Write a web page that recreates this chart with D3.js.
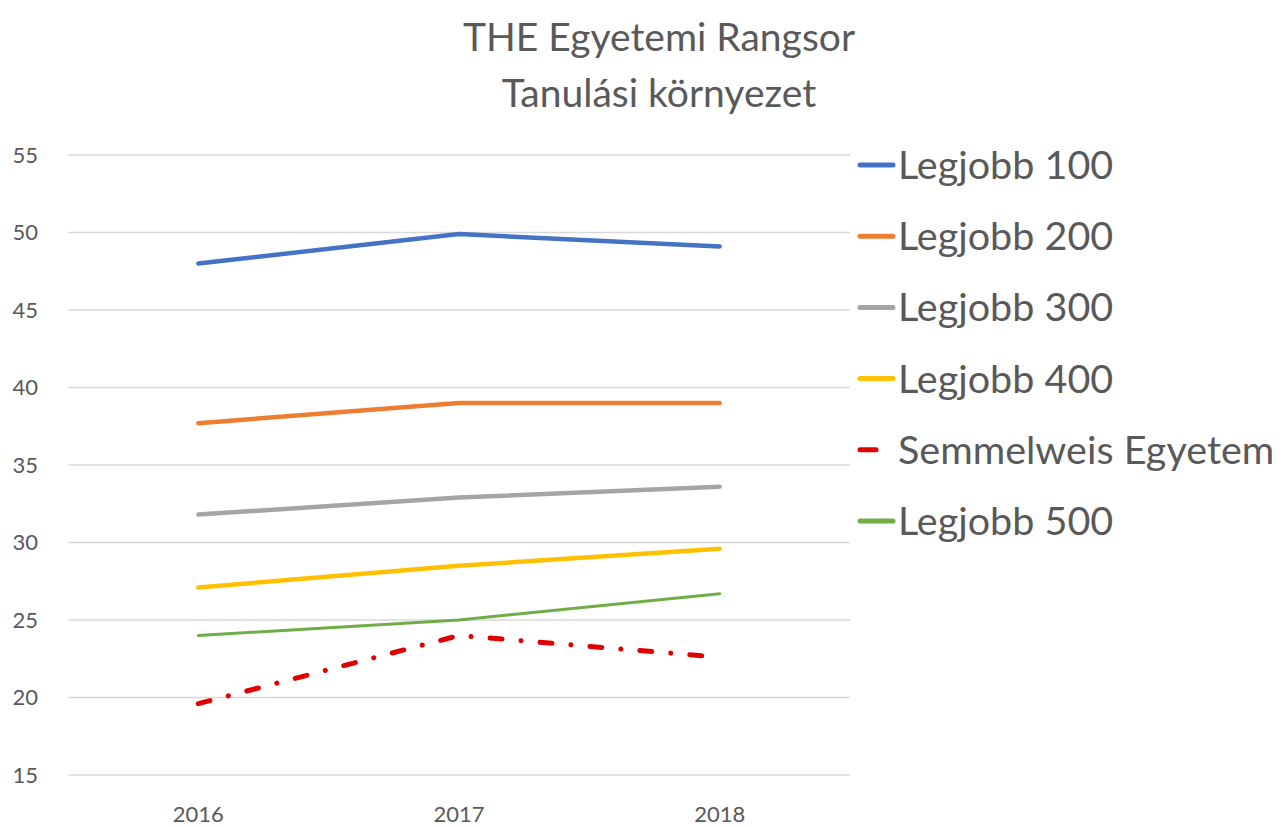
<!DOCTYPE html>
<html>
<head>
<meta charset="utf-8">
<script src="https://cdn.jsdelivr.net/npm/d3@7"></script>
<style>
  html, body { margin: 0; padding: 0; background: #fff; }
  svg { display: block; font-family: Lato, "Open Sans", sans-serif; }
</style>
</head>
<body>
<svg id="chart" width="1283" height="827"></svg>
<script>
const years = ["2016", "2017", "2018"];
const seriesNames = ["Legjobb 100", "Legjobb 200", "Legjobb 300", "Legjobb 400", "Semmelweis Egyetem", "Legjobb 500"];
const legjobb100 = [48.0, 49.9, 49.1];
const legjobb200 = [37.7, 39.0, 39.0];
const legjobb300 = [31.8, 32.9, 33.6];
const legjobb400 = [27.1, 28.5, 29.6];
const semmelweis = [19.6, 24.0, 22.6];
const legjobb500 = [24.0, 25.0, 26.7];
const yTicks = [15, 20, 25, 30, 35, 40, 45, 50, 55];
const titleLines = ["THE Egyetemi Rangsor", "Tanulási környezet"];

const seriesValues = [legjobb100, legjobb200, legjobb300, legjobb400, semmelweis, legjobb500];
const colors = ["#4472C4", "#ED7D31", "#A5A5A5", "#FFC000", "#E00000", "#70AD47"];
const widths = [4.5, 4.5, 4.5, 4.5, 5, 3];

const svg = d3.select("#chart");
const pLeft = 68, pRight = 850, pTop = 155, pBottom = 775;

const x = d3.scaleBand().domain(years).range([pLeft, pRight]);
const y = d3.scaleLinear().domain([15, 55]).range([pBottom, pTop]);

// gridlines
svg.append("g").selectAll("line").data(yTicks).join("line")
  .attr("x1", pLeft).attr("x2", pRight)
  .attr("y1", d => y(d)).attr("y2", d => y(d))
  .attr("stroke", "#D9D9D9").attr("stroke-width", 1.5);

// y axis labels
const yAxis = d3.axisLeft(y).tickValues(yTicks).tickSize(0).tickPadding(0);
const gy = svg.append("g").attr("transform", "translate(38,0)").call(yAxis);
gy.select(".domain").remove();
gy.selectAll("text").attr("font-size", 22).attr("fill", "#595959").attr("font-family", "Lato, sans-serif");

// x axis labels
const xAxis = d3.axisBottom(x).tickSize(0).tickPadding(0);
const gx = svg.append("g").attr("transform", "translate(0,806)").call(xAxis);
gx.select(".domain").remove();
gx.selectAll("text").attr("font-size", 22).attr("fill", "#595959").attr("font-family", "Lato, sans-serif");

// lines
const line = d3.line().x((d, i) => x(years[i]) + x.bandwidth() / 2).y(d => y(d));
const order = [0, 1, 2, 3, 5, 4];
order.forEach(k => {
  const p = svg.append("path").datum(seriesValues[k])
    .attr("d", line)
    .attr("fill", "none")
    .attr("stroke", colors[k])
    .attr("stroke-width", widths[k])
    .attr("stroke-linecap", "round")
    .attr("stroke-linejoin", "round");
  if (k === 4) p.attr("stroke-dasharray", "12 19 0.1 19");
});

// legend
const lg = svg.append("g");
seriesNames.forEach((name, i) => {
  const cy = 165 + i * 71.2;
  lg.append("line")
    .attr("x1", 860).attr("x2", i === 4 ? 876 : 893)
    .attr("y1", cy).attr("y2", cy)
    .attr("stroke", colors[i]).attr("stroke-width", 5).attr("stroke-linecap", "round");
  lg.append("text")
    .attr("x", 898).attr("y", cy + 14)
    .attr("font-size", 39.5).attr("fill", "#595959")
    .text(name);
});

// title
svg.append("g").selectAll("text").data(titleLines).join("text")
  .attr("x", 659).attr("y", (d, i) => 51 + i * 56)
  .attr("text-anchor", "middle")
  .attr("font-size", 39).attr("fill", "#595959")
  .text(d => d);
</script>
</body>
</html>
